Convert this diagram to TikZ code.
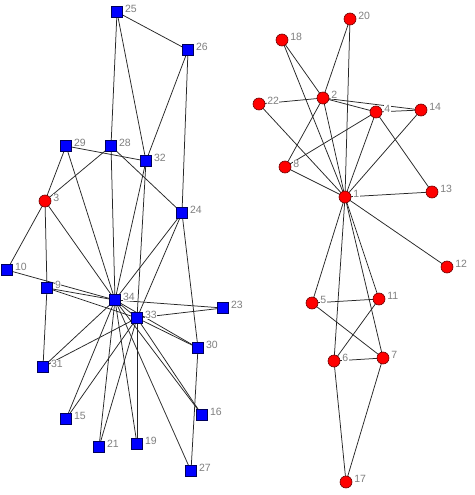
\documentclass[tikz,border=0pt]{standalone}
\usepackage{fontspec}
\setmainfont{Liberation Sans}
\usetikzlibrary{backgrounds}
\definecolor{lblgray}{RGB}{128,128,128}
\definecolor{sqblue}{RGB}{0,0,255}
\definecolor{sqedge}{RGB}{0,0,90}
\definecolor{cred}{RGB}{255,0,0}
\definecolor{credge}{RGB}{110,0,0}
\tikzset{
  lbl/.style={font=\fontsize{10.5}{11}\selectfont, text=lblgray, fill=white, inner sep=0.4pt, yshift=3pt},
  sq/.style={rectangle, draw=sqedge, fill=sqblue, line width=0.6pt, minimum size=11.5pt, inner sep=0pt},
  rc/.style={circle, draw=credge, fill=cred, line width=0.6pt, minimum size=12pt, inner sep=0pt},
  edge/.style={draw=black!85, line width=0.75pt}
}
\begin{document}
\begin{tikzpicture}[x=1pt,y=-1pt]
\useasboundingbox (0,0) rectangle (474,495);
% left component
\node[sq, label={[lbl,label distance=1.5pt]right:25}] (n25) at (117,12) {};
\node[sq, label={[lbl,label distance=1.5pt]right:26}] (n26) at (188,50) {};
\node[sq, label={[lbl,label distance=1.5pt]right:29}] (n29) at (66,146) {};
\node[sq, label={[lbl,label distance=1.5pt]right:28}] (n28) at (111,146) {};
\node[sq, label={[lbl,label distance=1.5pt]right:32}] (n32) at (146,161) {};
\node[sq, label={[lbl,label distance=1.5pt]right:24}] (n24) at (182,213) {};
\node[rc, label={[lbl,label distance=1.5pt]right:3}] (n3) at (45,201) {};
\node[sq, label={[lbl,label distance=1.5pt]right:10}] (n10) at (7,270) {};
\node[sq, label={[lbl,label distance=1.5pt]right:9}] (n9) at (47,288) {};
\node[sq, label={[lbl,label distance=1.5pt]right:34}] (n34) at (115,300) {};
\node[sq, label={[lbl,label distance=1.5pt]right:33}] (n33) at (137,318) {};
\node[sq, label={[lbl,label distance=1.5pt]right:23}] (n23) at (223,308) {};
\node[sq, label={[lbl,label distance=1.5pt]right:30}] (n30) at (198,348) {};
\node[sq, label={[lbl,label distance=1.5pt]right:31}] (n31) at (43,367) {};
\node[sq, label={[lbl,label distance=1.5pt]right:15}] (n15) at (66,419) {};
\node[sq, label={[lbl,label distance=1.5pt]right:16}] (n16) at (202,415) {};
\node[sq, label={[lbl,label distance=1.5pt]right:21}] (n21) at (99,447) {};
\node[sq, label={[lbl,label distance=1.5pt]right:19}] (n19) at (137,444) {};
\node[sq, label={[lbl,label distance=1.5pt]right:27}] (n27) at (191,471) {};
% right component
\node[rc, label={[lbl,label distance=1.5pt]right:20}] (n20) at (350,19) {};
\node[rc, label={[lbl,label distance=1.5pt]right:18}] (n18) at (282,40) {};
\node[rc, label={[lbl,label distance=1.5pt]right:2}] (n2) at (323,98) {};
\node[rc, label={[lbl,label distance=1.5pt]right:22}] (n22) at (259,104) {};
\node[rc, label={[lbl,label distance=1.5pt]right:4}] (n4) at (376,112) {};
\node[rc, label={[lbl,label distance=1.5pt]right:14}] (n14) at (421,110) {};
\node[rc, label={[lbl,label distance=1.5pt]right:8}] (n8) at (285,167) {};
\node[rc, label={[lbl,label distance=1.5pt]right:1}] (n1) at (345,197) {};
\node[rc, label={[lbl,label distance=1.5pt]right:13}] (n13) at (432,192) {};
\node[rc, label={[lbl,label distance=1.5pt]right:12}] (n12) at (447,267) {};
\node[rc, label={[lbl,label distance=1.5pt]right:5}] (n5) at (312,303) {};
\node[rc, label={[lbl,label distance=1.5pt]right:11}] (n11) at (379,299) {};
\node[rc, label={[lbl,label distance=1.5pt]right:6}] (n6) at (334,361) {};
\node[rc, label={[lbl,label distance=1.5pt]right:7}] (n7) at (383,358) {};
\node[rc, label={[lbl,label distance=1.5pt]right:17}] (n17) at (346,482) {};
\begin{pgfonlayer}{background}
\fill[white] (0,0) rectangle (474,495);
\foreach \a/\b in {25/26,25/28,25/32,26/32,26/24,29/32,29/3,29/34,28/3,28/24,28/34,
  32/34,32/33,24/34,24/33,24/30,3/10,3/9,3/34,10/34,9/34,9/33,9/31,
  31/34,31/33,34/33,23/34,23/33,30/34,30/33,30/27,16/34,16/33,27/34,
  19/34,19/33,21/34,21/33,15/34,15/33,
  1/2,1/4,1/5,1/6,1/7,1/8,1/11,1/12,1/13,1/14,1/18,1/20,1/22,
  2/4,2/8,2/14,2/18,2/20,2/22,4/8,4/13,4/14,5/7,5/11,6/7,6/11,6/17,7/17}
  \draw[edge] (n\a.center) -- (n\b.center);
\end{pgfonlayer}
\end{tikzpicture}
\end{document}
